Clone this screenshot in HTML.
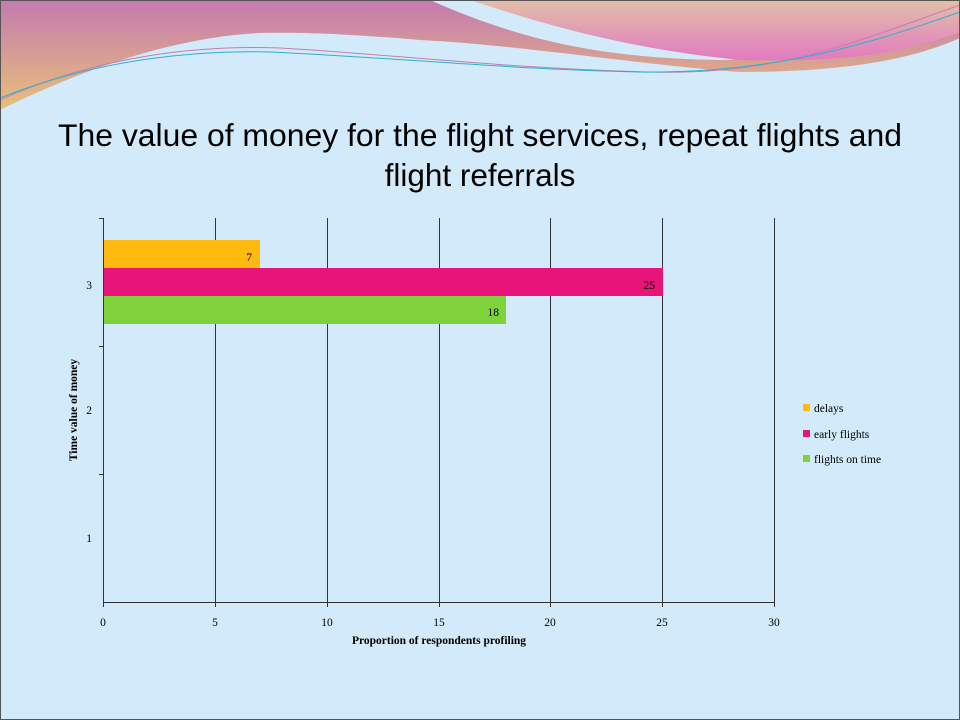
<!DOCTYPE html>
<html><head><meta charset="utf-8"><style>
body{margin:0;width:960px;height:720px;overflow:hidden;background:#d2eaf9;}
svg{display:block}
</style></head><body>
<svg width="960" height="720" xmlns="http://www.w3.org/2000/svg" font-family="Liberation Serif, serif">
<defs>
<linearGradient id="g1" x1="0" y1="0" x2="0" y2="1"><stop offset="0" stop-color="#c47ab0"/><stop offset="1" stop-color="#e8c07a"/></linearGradient>
<linearGradient id="g2" x1="0" y1="0" x2="0" y2="1"><stop offset="0" stop-color="#e2c0a8"/><stop offset="1" stop-color="#e27ac0"/></linearGradient>
</defs>
<rect width="960" height="720" fill="#d2eaf9"/>
<path d="M0,0 L960,0 L960,38 C900,65 820,72 740,72 C650,66 520,45 420,40 C350,34 300,32 260,33 C160,38 60,80 0,110 Z" fill="url(#g1)"/>
<path d="M430,0 C520,40 600,58 720,60 C800,58 880,45 960,28 L960,0 Z" fill="#d2eaf9"/>
<path d="M470,0 L960,0 L960,32 C900,55 840,62 740,60 C640,50 560,30 470,0 Z" fill="url(#g2)"/>
<path d="M0,100 C100,55 200,45 280,48 C400,55 500,68 650,72 C780,76 860,40 960,5" fill="none" stroke="#c080b0" stroke-width="1"/>
<path d="M0,98 C100,58 200,50 270,52 C400,58 520,70 640,72 C780,74 880,40 960,12" fill="none" stroke="#30b0d0" stroke-width="1"/>
<rect x="0.5" y="0.5" width="959" height="719" fill="none" stroke="#555" stroke-width="1"/>
<text x="480" y="146" font-family="Liberation Sans, sans-serif" font-size="31.5" text-anchor="middle" fill="#000" textLength="844" lengthAdjust="spacingAndGlyphs">The value of money for the flight services, repeat flights and</text>
<text x="480" y="186" font-family="Liberation Sans, sans-serif" font-size="31.5" text-anchor="middle" fill="#000">flight referrals</text>
<g stroke="#333" stroke-width="1">
<line x1="215.5" y1="218" x2="215.5" y2="602"/>
<line x1="327.5" y1="218" x2="327.5" y2="602"/>
<line x1="439.5" y1="218" x2="439.5" y2="602"/>
<line x1="550.5" y1="218" x2="550.5" y2="602"/>
<line x1="662.5" y1="218" x2="662.5" y2="602"/>
<line x1="774.5" y1="218" x2="774.5" y2="602"/>
</g>
<rect x="103" y="240" width="157" height="28" fill="#ffb90f"/>
<rect x="103" y="268" width="560" height="28" fill="#e8147a"/>
<rect x="103" y="296" width="403" height="28" fill="#7fd23c"/>
<g stroke="#333" stroke-width="1">
<line x1="103.5" y1="218" x2="103.5" y2="602"/>
<line x1="103" y1="602.5" x2="775" y2="602.5"/>
<line x1="99" y1="218.5" x2="103" y2="218.5"/>
<line x1="99" y1="346.5" x2="103" y2="346.5"/>
<line x1="99" y1="474.5" x2="103" y2="474.5"/>
<g><line x1="103.5" y1="602" x2="103.5" y2="607"/><line x1="215.5" y1="602" x2="215.5" y2="607"/><line x1="327.5" y1="602" x2="327.5" y2="607"/><line x1="439.5" y1="602" x2="439.5" y2="607"/><line x1="550.5" y1="602" x2="550.5" y2="607"/><line x1="662.5" y1="602" x2="662.5" y2="607"/><line x1="774.5" y1="602" x2="774.5" y2="607"/></g>
</g>
<g font-size="11.5" fill="#000">
<text x="252" y="261" text-anchor="end">7</text>
<text x="655" y="289" text-anchor="end">25</text>
<text x="499" y="316" text-anchor="end">18</text>
<g text-anchor="end"><text x="92" y="289">3</text><text x="92" y="414">2</text><text x="92" y="542">1</text></g>
<g text-anchor="middle"><text x="103" y="626">0</text><text x="215" y="626">5</text><text x="327" y="626">10</text><text x="439" y="626">15</text><text x="550" y="626">20</text><text x="662" y="626">25</text><text x="774" y="626">30</text></g>
<text x="439" y="644" text-anchor="middle" font-weight="bold">Proportion of respondents  profiling</text>
<text transform="translate(77,410) rotate(-90)" text-anchor="middle" font-weight="bold">Time value of money</text>
<rect x="803" y="404" width="7" height="7" fill="#ffb90f"/><text x="814" y="412">delays</text>
<rect x="803" y="430" width="7" height="7" fill="#e8147a"/><text x="814" y="438">early flights</text>
<rect x="803" y="455" width="7" height="7" fill="#7fd23c"/><text x="814" y="463">flights on time</text>
</g>
</svg>
</body></html>
